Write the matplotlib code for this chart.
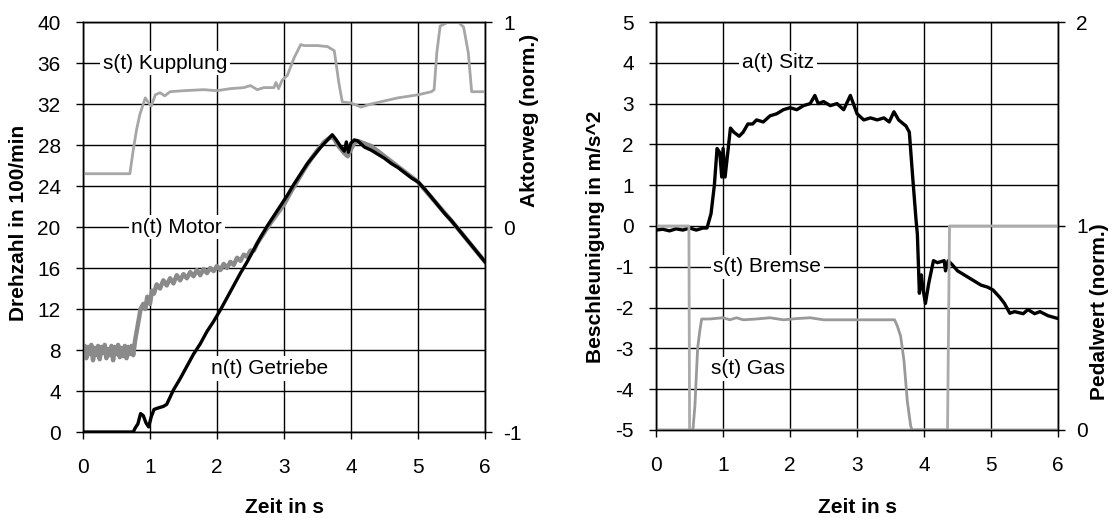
import matplotlib
matplotlib.use('Agg')
import matplotlib.pyplot as plt

plt.rcParams['font.family'] = ['Liberation Sans', 'DejaVu Sans']
plt.rcParams['font.size'] = 15
plt.rcParams['axes.unicode_minus'] = False

# ---- left panel: Drehzahl / Aktorweg ----
kupplung_t = [0, 0.70, 0.75, 0.8, 0.85, 0.93, 0.97, 1.02, 1.08, 1.15, 1.22, 1.3, 1.5, 1.8, 2.0, 2.2, 2.4,
              2.5, 2.6, 2.7, 2.85, 2.88, 2.92, 2.97, 3.05, 3.15, 3.25, 3.3, 3.5, 3.65, 3.75, 3.82, 3.87,
              4.0, 4.15, 4.3, 4.5, 4.7, 5.0, 5.2, 5.24, 5.28, 5.33, 5.45, 5.6, 5.68, 5.75, 5.8, 6.0]
kupplung_s = [0.26, 0.26, 0.375, 0.475, 0.55, 0.63, 0.61, 0.59, 0.645, 0.655, 0.64, 0.66, 0.665, 0.67,
              0.665, 0.675, 0.68, 0.69, 0.67, 0.68, 0.68, 0.705, 0.675, 0.715, 0.74, 0.825, 0.89, 0.885,
              0.885, 0.88, 0.86, 0.70, 0.61, 0.605, 0.585, 0.60, 0.615, 0.63, 0.645, 0.66, 0.67, 0.85,
              0.98, 1.0, 1.0, 0.975, 0.85, 0.66, 0.66]

motor_t = [0, .025, .05, .075, .1, .125, .15, .175, .2, .225, .25, .275, .3, .325, .35, .375, .4, .425,
           .45, .475, .5, .525, .55, .575, .6, .625, .65, .675, .7, .725, .75,
           0.78, 0.82, 0.86, 0.9, 0.93, 0.96, 1.0, 1.03, 1.06, 1.1, 1.15, 1.2, 1.25, 1.3, 1.35, 1.4, 1.45,
           1.5, 1.55, 1.6, 1.65, 1.7, 1.75, 1.8, 1.85, 1.9, 1.95, 2.0, 2.05, 2.1, 2.15, 2.2, 2.25, 2.3,
           2.35, 2.4, 2.45, 2.5, 2.55, 2.6, 2.7, 2.8, 2.9, 3.0, 3.1, 3.2, 3.3, 3.4, 3.5, 3.6, 3.7, 3.75,
           3.8, 3.85, 3.9, 3.95, 4.0, 4.05, 4.1, 4.3, 4.6, 5.0, 5.5, 6.0]
motor_n = [7.4, 8.4, 7.2, 8.3, 7.6, 8.5, 7.0, 8.2, 7.5, 8.4, 7.1, 8.3, 7.7, 8.5, 7.2, 8.1, 7.5, 8.4,
           7.0, 8.3, 7.6, 8.5, 7.3, 8.2, 7.4, 8.4, 7.2, 8.3, 7.6, 8.4, 7.5,
           9.0, 10.5, 12.0, 12.5, 12.0, 13.2, 12.5, 13.8, 13.5, 14.4, 14.0, 14.8, 14.3, 15.0, 14.5, 15.3,
           14.8, 15.4, 15.0, 15.6, 15.2, 15.8, 15.3, 15.9, 15.5, 16.0, 15.7, 16.2, 15.8, 16.4, 16.0, 16.6,
           16.3, 17.0, 16.7, 17.3, 17.1, 17.7, 17.7, 18.4, 19.4, 20.4, 21.3, 22.2, 23.4, 24.5, 25.6, 26.6,
           27.5, 28.3, 28.8, 28.6, 28.0, 27.6, 27.2, 26.9, 27.6, 28.2, 28.4, 27.9, 26.4, 24.4, 20.6, 16.6]

getriebe_t = [0, 0.75, 0.78, 0.82, 0.86, 0.9, 0.94, 0.98, 1.02, 1.06, 1.1, 1.2, 1.25, 1.3, 1.35, 1.45,
              1.55, 1.65, 1.75, 1.85, 1.95, 2.05, 2.15, 2.25, 2.35, 2.45, 2.55, 2.65, 2.75, 2.85, 2.95,
              3.05, 3.15, 3.25, 3.35, 3.45, 3.55, 3.65, 3.72, 3.78, 3.84, 3.9, 3.93, 3.96, 4.0, 4.05,
              4.1, 4.15, 4.2, 4.3, 4.4, 4.5, 4.6, 4.7, 4.8, 4.9, 5.0, 5.1, 5.2, 5.3, 5.4, 5.5, 5.6, 5.7,
              5.8, 5.9, 6.0]
getriebe_n = [0, 0, 0.4, 0.8, 1.8, 1.6, 0.9, 0.5, 1.5, 2.2, 2.3, 2.5, 2.7, 3.4, 4.1, 5.2, 6.4, 7.6, 8.6,
              9.8, 10.8, 11.9, 13.1, 14.3, 15.5, 16.6, 17.8, 19.0, 20.1, 21.1, 22.1, 23.1, 24.2, 25.2,
              26.2, 27.0, 27.8, 28.5, 29.0, 28.5, 27.9, 27.4, 28.3, 27.3, 28.2, 28.5, 28.4, 28.1, 27.8,
              27.5, 27.1, 26.7, 26.2, 25.8, 25.3, 24.8, 24.4, 23.7, 22.9, 22.1, 21.3, 20.6, 19.8, 19.0,
              18.2, 17.4, 16.6]

# ---- right panel: Beschleunigung / Pedalwert ----
sitz_t = [0, 0.1, 0.2, 0.3, 0.4, 0.5, 0.6, 0.7, 0.76, 0.82, 0.87, 0.91, 0.95, 0.98, 1.0, 1.03, 1.07,
          1.11, 1.16, 1.24, 1.3, 1.37, 1.44, 1.5, 1.6, 1.7, 1.8, 1.9, 2.0, 2.1, 2.2, 2.3, 2.37, 2.42,
          2.5, 2.6, 2.7, 2.8, 2.9, 3.0, 3.1, 3.2, 3.3, 3.4, 3.48, 3.55, 3.62, 3.73, 3.78, 3.83, 3.88,
          3.9, 3.93, 3.96, 3.98, 4.02, 4.07, 4.14, 4.2, 4.3, 4.32, 4.36, 4.42, 4.5, 4.6, 4.73, 4.85,
          4.95, 5.03, 5.13, 5.2, 5.28, 5.35, 5.48, 5.55, 5.65, 5.73, 5.85, 6.0]
sitz_a = [-0.1, -0.08, -0.12, -0.07, -0.1, -0.05, -0.1, -0.05, -0.05, 0.3, 1.0, 1.9, 1.8, 1.2, 1.9,
          1.2, 1.8, 2.4, 2.3, 2.2, 2.3, 2.5, 2.5, 2.6, 2.55, 2.7, 2.75, 2.85, 2.9, 2.85, 2.95, 3.0, 3.2,
          3.0, 3.05, 2.95, 3.0, 2.85, 3.2, 2.75, 2.6, 2.65, 2.6, 2.65, 2.55, 2.8, 2.6, 2.45, 2.3, 1.2,
          0.15, -0.2, -1.65, -1.2, -1.5, -1.9, -1.4, -0.85, -0.9, -0.85, -1.1, -0.85, -0.95, -1.1, -1.2,
          -1.33, -1.45, -1.5, -1.57, -1.75, -1.9, -2.14, -2.1, -2.15, -2.05, -2.15, -2.1, -2.2, -2.27]

bremse_t = [0, 0.49, 0.5, 4.35, 4.38, 6.0]
bremse_p = [1, 1, 0, 0, 1, 1]

gas_t = [0, 0.55, 0.58, 0.62, 0.65, 0.68, 0.8, 1.0, 1.1, 1.2, 1.3, 1.5, 1.7, 1.9, 2.1, 2.3, 2.5, 3.0,
         3.56, 3.6, 3.65, 3.7, 3.75, 3.8, 3.82, 6.0]
gas_p = [0, 0, 0.12, 0.4, 0.48, 0.544, 0.544, 0.55, 0.54, 0.55, 0.54, 0.544, 0.55, 0.54, 0.546, 0.55,
         0.54, 0.54, 0.54, 0.51, 0.46, 0.34, 0.14, 0.02, 0, 0]

fig = plt.figure(figsize=(11.12, 5.18), dpi=100)
axL = fig.add_axes([0.0746, 0.166, 0.3616, 0.7915])
axR = fig.add_axes([0.590, 0.170, 0.3615, 0.7875])


def style(ax, ax2, xlab_y):
    ax.grid(True, color='black', linewidth=1.0)
    ax.set_axisbelow(True)
    for a in (ax, ax2):
        for sp in a.spines.values():
            sp.set_linewidth(1.0)
    ax.tick_params(direction='out', length=5, width=1, labelsize=15)
    ax.tick_params(axis='x', pad=14)
    ax.tick_params(axis='y', pad=11)
    ax2.tick_params(direction='out', length=5, width=1, labelsize=15, pad=8)
    ax.set_xlim(0, 6)
    ax.set_xticks(range(0, 7))
    ax.set_xlabel('Zeit in s', fontweight='bold', fontsize=15)
    ax.xaxis.set_label_coords(0.5, xlab_y)


def label(ax2, ax, x, y, s):
    ax2.text(x, y, s, transform=ax.transData, ha='center', va='center', fontsize=15, zorder=10,
             bbox=dict(facecolor='white', edgecolor='none', pad=2))


# left
axL2 = axL.twinx()
axL.plot(motor_t, motor_n, color='#8a8a8a', linewidth=3.2, zorder=3)
axL.plot(getriebe_t, getriebe_n, color='black', linewidth=2.4, zorder=4)
axL2.plot(kupplung_t, kupplung_s, color='#a6a6a6', linewidth=2.0)
axL.set_ylim(0, 40)
axL.set_yticks(range(0, 41, 4))
axL2.set_ylim(-1, 1)
axL2.set_yticks([-1, 0, 1])
style(axL, axL2, -0.161)
axL.set_ylabel('Drehzahl in 100/min', fontweight='bold', fontsize=15)
axL.yaxis.set_label_coords(-0.137, 0.51)
axL2.set_ylabel('Aktorweg (norm.)', fontweight='bold', fontsize=15)
axL2.yaxis.set_label_coords(1.087, 0.76)
label(axL2, axL, 1.22, 36, 's(t) Kupplung')
label(axL2, axL, 1.4, 20, 'n(t) Motor')
label(axL2, axL, 2.78, 6.2, 'n(t) Getriebe')

# right
axR2 = axR.twinx()
axR.plot(sitz_t, sitz_a, color='black', linewidth=2.4, zorder=3)
axR2.plot(bremse_t, bremse_p, color='#ababab', linewidth=2.0)
axR2.plot(gas_t, gas_p, color='#999999', linewidth=2.0)
axR.set_ylim(-5, 5)
axR.set_yticks(range(-5, 6))
axR2.set_ylim(0, 2)
axR2.set_yticks([0, 1, 2])
style(axR, axR2, -0.167)
axR.set_ylabel('Beschleunigung in m/s^2', fontweight='bold', fontsize=15)
axR.yaxis.set_label_coords(-0.127, 0.473)
axR2.set_ylabel('Pedalwert (norm.)', fontweight='bold', fontsize=15)
axR2.yaxis.set_label_coords(1.08, 0.29)
label(axR2, axR, 1.82, 4, 'a(t) Sitz')
label(axR2, axR, 1.66, -1, 's(t) Bremse')
label(axR2, axR, 1.37, -3.5, 's(t) Gas')

fig.savefig('out.png', dpi=100)
